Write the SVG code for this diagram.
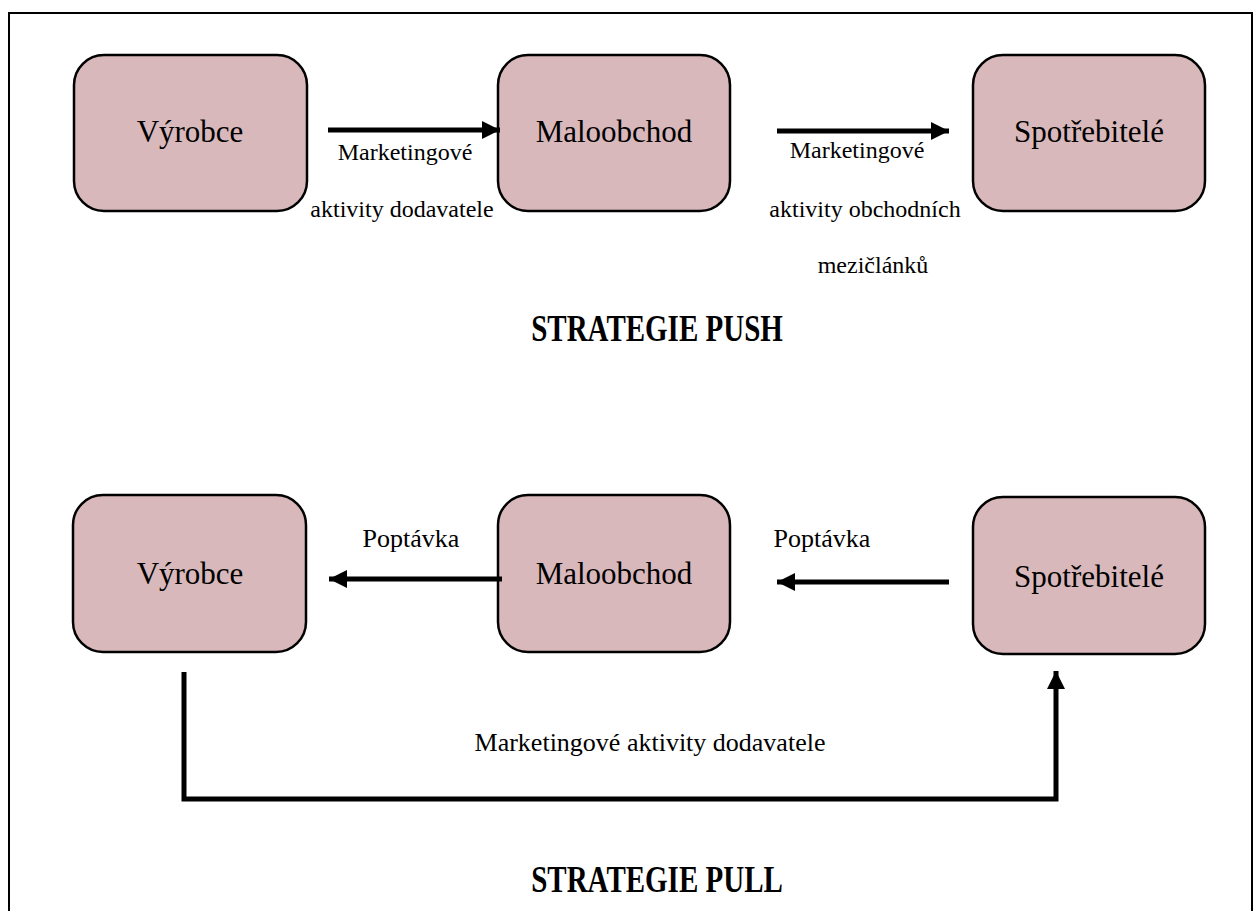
<svg xmlns="http://www.w3.org/2000/svg" width="1257" height="911" viewBox="0 0 1257 911">
<defs>
<style>
.box{fill:#d9b8bb;stroke:#000;stroke-width:2.5}
.nt{font-family:"Liberation Serif","Times New Roman",serif;font-size:31px;fill:#000;text-anchor:middle}
.lb{font-family:"Liberation Serif","Times New Roman",serif;font-size:24px;fill:#000;text-anchor:middle}
.lb2{font-family:"Liberation Serif","Times New Roman",serif;font-size:26px;fill:#000;text-anchor:middle}
.tt{font-family:"Liberation Serif","Times New Roman",serif;font-size:29px;font-weight:bold;fill:#000;text-anchor:middle}
.ln{fill:none;stroke:#000;stroke-width:5}
</style>
<marker id="ah" viewBox="0 0 10 10" refX="10" refY="5" markerWidth="3.6" markerHeight="3.6" markerUnits="strokeWidth" orient="auto">
<path d="M0,0 L10,5 L0,10 Z" fill="#000"/>
</marker>
</defs>
<rect width="1257" height="911" fill="#fff"/>
<path d="M9,911 V13 H1252 V911" fill="none" stroke="#000" stroke-width="2"/>

<g id="push-vyrobce"><rect class="box" x="74" y="55" width="233" height="156" rx="30"/><text class="nt" x="190" y="142">Výrobce</text></g>
<g id="push-maloobchod"><rect class="box" x="498" y="55" width="232" height="156" rx="30"/><text class="nt" x="614" y="142">Maloobchod</text></g>
<g id="push-spotrebitele"><rect class="box" x="973" y="55" width="232" height="156" rx="30"/><text class="nt" x="1089" y="142">Spotřebitelé</text></g>

<g id="pull-vyrobce"><rect class="box" x="73" y="495" width="233" height="157" rx="30"/><text class="nt" x="190" y="584">Výrobce</text></g>
<g id="pull-maloobchod"><rect class="box" x="498" y="495" width="232" height="157" rx="30"/><text class="nt" x="614" y="584">Maloobchod</text></g>
<g id="pull-spotrebitele"><rect class="box" x="973" y="497" width="232" height="157" rx="30"/><text class="nt" x="1089" y="587">Spotřebitelé</text></g>

<g id="connectors">
<line class="ln" x1="328" y1="130" x2="500" y2="130" marker-end="url(#ah)"/>
<line class="ln" x1="777" y1="131" x2="949" y2="131" marker-end="url(#ah)"/>
<line class="ln" x1="502" y1="579" x2="329" y2="579" marker-end="url(#ah)"/>
<line class="ln" x1="949" y1="582" x2="777" y2="582" marker-end="url(#ah)"/>
<path class="ln" d="M184,672 V799 H1056 V671" marker-end="url(#ah)"/>
</g>

<g id="labels">
<text class="lb" x="405" y="160">Marketingové</text>
<text class="lb" x="402" y="217">aktivity dodavatele</text>
<text class="lb" x="857" y="158">Marketingové</text>
<text class="lb" x="865" y="217">aktivity obchodních</text>
<text class="lb" x="873" y="273">mezičlánků</text>
<text class="lb2" x="411" y="547">Poptávka</text>
<text class="lb2" x="822" y="547">Poptávka</text>
<text class="lb2" x="650" y="751">Marketingové aktivity dodavatele</text>
<text class="tt" transform="translate(657,341) scale(1,1.3)">STRATEGIE PUSH</text>
<text class="tt" transform="translate(657,892) scale(1,1.3)">STRATEGIE PULL</text>
</g>
</svg>
